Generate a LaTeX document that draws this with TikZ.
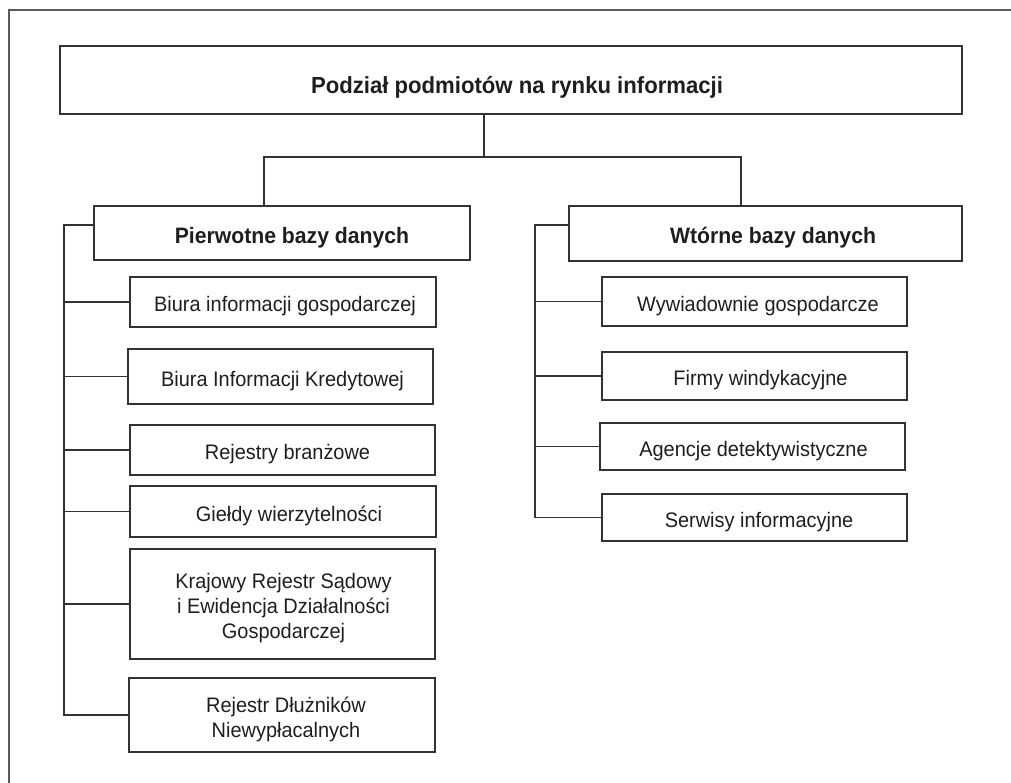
\documentclass[tikz,border=0pt]{standalone}
\usepackage{fontspec}
\setmainfont{Liberation Sans}[FakeStretch=0.95]
\definecolor{linec}{HTML}{333333}
\definecolor{framec}{HTML}{5A5A5A}
\definecolor{textc}{HTML}{1E1E1E}
\begin{document}
\begin{tikzpicture}[x=1pt,y=-1pt,
  box/.style={draw=linec, line width=1.5pt, inner sep=0pt},
  txt/.style={inner sep=0pt, align=center, text=textc, yshift=-4.5pt,
    font=\fontsize{21}{25}\selectfont},
  hdrtxt/.style={txt, font=\fontsize{22.3}{26}\selectfont\bfseries},
  conn/.style={draw=linec, line width=1.5pt}]
\useasboundingbox (0,0) rectangle (1011,783);
\draw[draw=framec, line width=1.5pt] (9,783) -- (9,10) -- (1011,10);

% top
\node[box, minimum width=902pt, minimum height=68pt] (title) at (511,80) {};
\node[hdrtxt, font=\fontsize{23.3}{27}\selectfont\bfseries, xshift=6pt, yshift=-3pt] (titlet) at (title)
  {Podział podmiotów na rynku informacji};

% headers
\node[box, minimum width=376pt, minimum height=54pt] (p0) at (282,233) {};
\node[hdrtxt, xshift=10pt] (p0t) at (p0) {Pierwotne bazy danych};
\node[box, minimum width=393pt, minimum height=55pt] (w0) at (765.5,233.5) {};
\node[hdrtxt, xshift=7.5pt] (w0t) at (w0) {Wtórne bazy danych};

% left children
\node[box, minimum width=306pt, minimum height=50pt] (p1) at (283,302) {};
\node[txt, xshift=2pt] (p1t) at (p1) {Biura informacji gospodarczej};
\node[box, minimum width=305pt, minimum height=55pt] (p2) at (280.5,376.5) {};
\node[txt, xshift=2pt] (p2t) at (p2) {Biura Informacji Kredytowej};
\node[box, minimum width=305pt, minimum height=50pt] (p3) at (282.5,450) {};
\node[txt, xshift=5pt] (p3t) at (p3) {Rejestry branżowe};
\node[box, minimum width=306pt, minimum height=51pt] (p4) at (283,511.5) {};
\node[txt, xshift=6pt] (p4t) at (p4) {Giełdy wierzytelności};
\node[box, minimum width=305pt, minimum height=110pt] (p5) at (282.5,604) {};
\node[txt, xshift=1pt] (p5t) at (p5)
  {Krajowy Rejestr Sądowy\\i Ewidencja Działalności\\Gospodarczej};
\node[box, minimum width=306pt, minimum height=74pt] (p6) at (282,715) {};
\node[txt, xshift=4pt] (p6t) at (p6) {Rejestr Dłużników\\Niewypłacalnych};

% right children
\node[box, minimum width=305pt, minimum height=49pt] (w1) at (754.5,301.5) {};
\node[txt, xshift=3.5pt] (w1t) at (w1) {Wywiadownie gospodarcze};
\node[box, minimum width=305pt, minimum height=48pt] (w2) at (754.5,376) {};
\node[txt, xshift=6pt] (w2t) at (w2) {Firmy windykacyjne};
\node[box, minimum width=305pt, minimum height=47pt] (w3) at (752.5,446.5) {};
\node[txt, xshift=1pt] (w3t) at (w3) {Agencje detektywistyczne};
\node[box, minimum width=305pt, minimum height=47pt] (w4) at (754.5,517.5) {};
\node[txt, xshift=4.5pt] (w4t) at (w4) {Serwisy informacyjne};

% top tree
\coordinate (tj) at (484,157);
\coordinate (pj) at (264,157);
\coordinate (wj) at (741,157);
\draw[conn] (tj |- title.south) -- (tj);
\draw[conn] (pj |- p0.north) -- (pj) -- (wj) -- (wj |- w0.north);

% left bus
\coordinate (pb) at (64,225);
\draw[conn] (p0.west |- pb) -- (pb) -- (pb |- p6.west) -- (p6.west);
\foreach \n in {p1,p2,p3,p4,p5}
  \draw[conn] (pb |- \n.west) -- (\n.west);

% right bus
\coordinate (wb) at (535,225);
\draw[conn] (w0.west |- wb) -- (wb) -- (wb |- w4.west) -- (w4.west);
\foreach \n in {w1,w2,w3}
  \draw[conn] (wb |- \n.west) -- (\n.west);
\end{tikzpicture}
\end{document}
